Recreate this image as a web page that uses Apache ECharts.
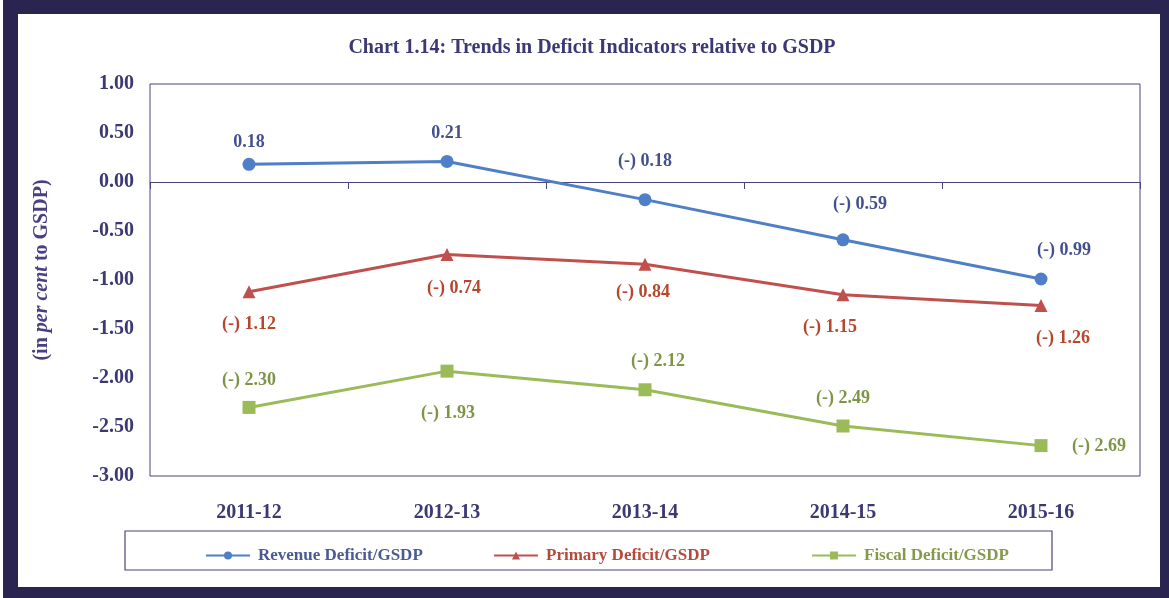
<!DOCTYPE html>
<html>
<head>
<meta charset="utf-8">
<title>Trends in Deficit Indicators relative to GSDP</title>
<script src="https://cdn.jsdelivr.net/npm/echarts@6/dist/echarts.min.js"></script>
<style>
  html, body { margin: 0; padding: 0; background: #ffffff; }
  #chart { width: 1169px; height: 598px; }
</style>
</head>
<body>
<div id="chart"></div>
<script>
// Fiscal years on the category axis
const years = ['2011-12', '2012-13', '2013-14', '2014-15', '2015-16'];

// Deficit indicators as per cent of GSDP
const revenueDeficit = [0.18, 0.21, -0.18, -0.59, -0.99];
const primaryDeficit = [-1.12, -0.74, -0.84, -1.15, -1.26];
const fiscalDeficit  = [-2.30, -1.93, -2.12, -2.49, -2.69];

// Series names shown in the legend
const seriesNames = ['Revenue Deficit/GSDP', 'Primary Deficit/GSDP', 'Fiscal Deficit/GSDP'];

// Value-axis range and step
const yMin = -3, yMax = 1, yStep = 0.5;

// Label offsets (dx, dy) from each marker
const revenueLabelOffsets = [[0, -22], [0, -28], [0, -38], [17, -35], [23, -29]];
const primaryLabelOffsets = [[0, 33], [7, 34], [-2, 28], [-13, 33], [22, 33]];
const fiscalLabelOffsets  = [[0, -27], [1, 42], [13, -28], [0, -28], [58, 1]];

const SERIF = '"Liberation Serif", "Times New Roman", serif';
const NAVY = '#3b3873';
const FRAME = '#2a2450';
const BOX = '#4a4580';

const COLORS = {
  revenue: { line: '#4f7fc6', label: '#44508e', legend: '#4b5a93' },
  primary: { line: '#c0504d', label: '#b5472f', legend: '#b54a3c' },
  fiscal:  { line: '#9bbb59', label: '#7f9447', legend: '#86994a' }
};

function fmt(v) {
  return v < 0 ? '(-) ' + Math.abs(v).toFixed(2) : v.toFixed(2);
}

function withLabels(values, offsets, color) {
  return values.map((v, i) => ({
    value: v,
    label: {
      show: true,
      position: 'inside',
      offset: offsets[i],
      color: color,
      fontFamily: SERIF,
      fontWeight: 'bold',
      fontSize: 18,
      formatter: p => fmt(p.value)
    }
  }));
}

function legendAt(left, name, color) {
  return {
    left: left,
    top: 542,
    itemWidth: 44,
    itemHeight: 10,
    textStyle: { fontFamily: SERIF, fontWeight: 'bold', fontSize: 17, color: color, padding: [0, 0, 0, 3] },
    data: [name]
  };
}

const chart = echarts.init(document.getElementById('chart'), null, { renderer: 'canvas' });

chart.setOption({
  backgroundColor: '#ffffff',
  animation: false,
  title: {
    text: 'Chart 1.14: Trends in Deficit Indicators relative to GSDP',
    left: 587,
    textAlign: 'center',
    top: 33,
    textStyle: { fontFamily: SERIF, fontWeight: 'bold', fontSize: 20, color: NAVY }
  },
  graphic: [
    // outer frame
    { type: 'rect', z: 10, shape: { x: 3, y: 0, width: 15, height: 598 }, style: { fill: FRAME } },
    { type: 'rect', z: 10, shape: { x: 3, y: 0, width: 1166, height: 14 }, style: { fill: FRAME } },
    { type: 'rect', z: 10, shape: { x: 1160, y: 0, width: 9, height: 598 }, style: { fill: FRAME } },
    { type: 'rect', z: 10, shape: { x: 3, y: 587, width: 1166, height: 11 }, style: { fill: FRAME } },
    // legend box
    {
      type: 'rect',
      z: 0,
      shape: { x: 125, y: 531, width: 927, height: 39 },
      style: { fill: 'none', stroke: BOX, lineWidth: 1.2 }
    }
  ],
  legend: [
    legendAt(200, seriesNames[0], COLORS.revenue.legend),
    legendAt(488, seriesNames[1], COLORS.primary.legend),
    legendAt(806, seriesNames[2], COLORS.fiscal.legend)
  ],
  grid: {
    left: 150, right: 29, top: 84, bottom: 122,
    show: true,
    borderColor: BOX,
    borderWidth: 1,
    containLabel: false
  },
  xAxis: [
    {
      type: 'category',
      data: years,
      boundaryGap: true,
      axisLine: { show: true, onZero: true, lineStyle: { color: BOX, width: 1 } },
      axisTick: { show: true, length: 7, lineStyle: { color: BOX } },
      axisLabel: { show: false },
      splitLine: { show: false }
    },
    {
      type: 'category',
      data: years,
      position: 'bottom',
      boundaryGap: true,
      axisLine: { show: false, onZero: false },
      axisTick: { show: false },
      axisLabel: {
        margin: 27,
        color: NAVY,
        fontFamily: SERIF,
        fontWeight: 'bold',
        fontSize: 20
      },
      splitLine: { show: false }
    }
  ],
  yAxis: {
    type: 'value',
    min: yMin,
    max: yMax,
    interval: yStep,
    name: '{a|(in }{b|per cent}{a| to GSDP)}',
    nameLocation: 'middle',
    nameRotate: 90,
    nameGap: 98,
    nameTextStyle: {
      padding: [0, 0, 0, 20],
      rich: {
        a: { fontFamily: SERIF, fontWeight: 'bold', fontSize: 20, color: '#4a3f80' },
        b: { fontFamily: SERIF, fontWeight: 'bold', fontStyle: 'italic', fontSize: 20, color: '#4a3f80' }
      }
    },
    axisLine: { show: false },
    axisTick: { show: false },
    splitLine: { show: false },
    axisLabel: {
      margin: 16,
      color: NAVY,
      fontFamily: SERIF,
      fontWeight: 'bold',
      fontSize: 20,
      formatter: v => v.toFixed(2)
    }
  },
  series: [
    {
      name: seriesNames[0],
      type: 'line',
      xAxisIndex: 0,
      data: withLabels(revenueDeficit, revenueLabelOffsets, COLORS.revenue.label),
      symbol: 'circle',
      symbolSize: 13,
      lineStyle: { color: COLORS.revenue.line, width: 3 },
      itemStyle: { color: COLORS.revenue.line }
    },
    {
      name: seriesNames[1],
      type: 'line',
      xAxisIndex: 0,
      data: withLabels(primaryDeficit, primaryLabelOffsets, COLORS.primary.label),
      symbol: 'triangle',
      symbolSize: 13,
      lineStyle: { color: COLORS.primary.line, width: 3 },
      itemStyle: { color: COLORS.primary.line }
    },
    {
      name: seriesNames[2],
      type: 'line',
      xAxisIndex: 0,
      data: withLabels(fiscalDeficit, fiscalLabelOffsets, COLORS.fiscal.label),
      symbol: 'rect',
      symbolSize: 13,
      lineStyle: { color: COLORS.fiscal.line, width: 3 },
      itemStyle: { color: COLORS.fiscal.line }
    }
  ]
});
</script>
</body>
</html>
